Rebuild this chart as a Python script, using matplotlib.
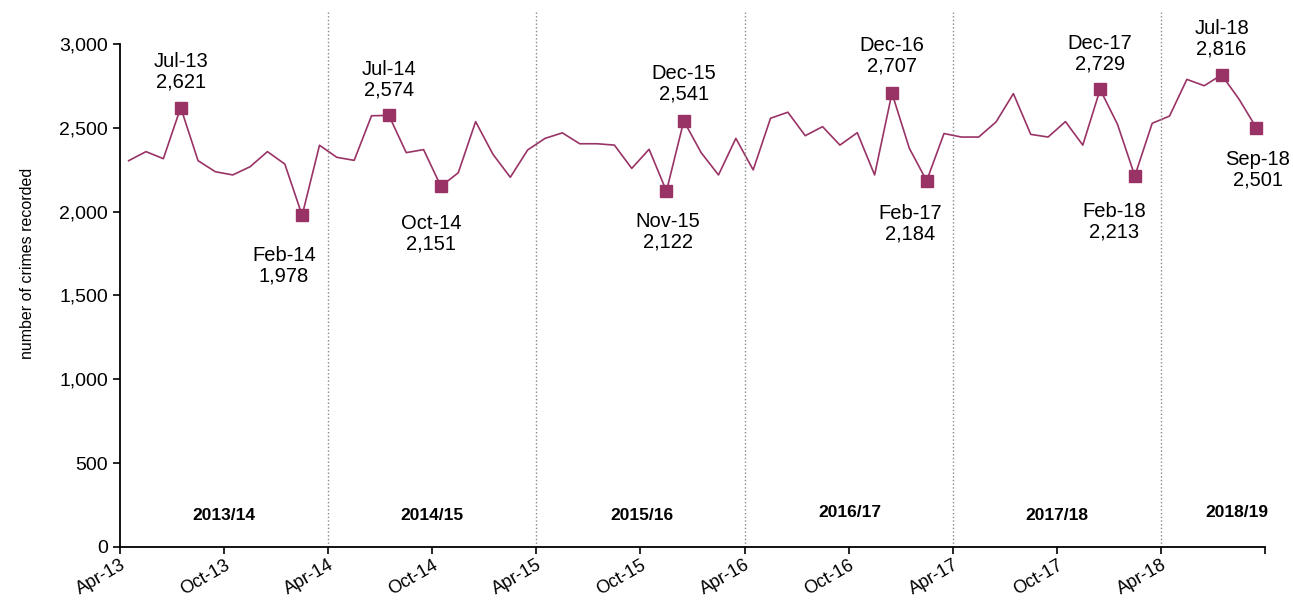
import matplotlib.pyplot as plt
import numpy as np
from matplotlib.ticker import FuncFormatter

# Monthly recorded crimes, Apr-13 to Sep-18
months = ['Apr-13', 'May-13', 'Jun-13', 'Jul-13', 'Aug-13', 'Sep-13', 'Oct-13', 'Nov-13', 'Dec-13', 'Jan-14', 'Feb-14', 'Mar-14',
          'Apr-14', 'May-14', 'Jun-14', 'Jul-14', 'Aug-14', 'Sep-14', 'Oct-14', 'Nov-14', 'Dec-14', 'Jan-15', 'Feb-15', 'Mar-15',
          'Apr-15', 'May-15', 'Jun-15', 'Jul-15', 'Aug-15', 'Sep-15', 'Oct-15', 'Nov-15', 'Dec-15', 'Jan-16', 'Feb-16', 'Mar-16',
          'Apr-16', 'May-16', 'Jun-16', 'Jul-16', 'Aug-16', 'Sep-16', 'Oct-16', 'Nov-16', 'Dec-16', 'Jan-17', 'Feb-17', 'Mar-17',
          'Apr-17', 'May-17', 'Jun-17', 'Jul-17', 'Aug-17', 'Sep-17', 'Oct-17', 'Nov-17', 'Dec-17', 'Jan-18', 'Feb-18', 'Mar-18',
          'Apr-18', 'May-18', 'Jun-18', 'Jul-18', 'Aug-18', 'Sep-18']
crimes = [2304, 2358, 2316, 2621, 2304, 2238, 2219, 2268, 2358, 2284, 1978, 2396,
          2324, 2306, 2572, 2574, 2352, 2370, 2151, 2232, 2537, 2342, 2205, 2368,
          2437, 2470, 2405, 2405, 2397, 2258, 2372, 2122, 2541, 2352, 2219, 2437,
          2249, 2557, 2593, 2453, 2507, 2397, 2471, 2219, 2707, 2378, 2184, 2466,
          2445, 2445, 2535, 2704, 2461, 2445, 2537, 2397, 2729, 2521, 2213, 2527,
          2570, 2789, 2751, 2816, 2672, 2501]

highlight = ['Jul-13', 'Feb-14', 'Jul-14', 'Oct-14', 'Nov-15', 'Dec-15',
             'Dec-16', 'Feb-17', 'Dec-17', 'Feb-18', 'Jul-18', 'Sep-18']
# label offsets in points (dx, dy)
label_offsets = [(0, 26), (-13, -36), (0, 26), (-7, -34), (1, -29), (0, 27),
                 (0, 27), (-12, -31), (0, 26), (-15, -33), (0, 26), (1, -30)]

years = ['2013/14', '2014/15', '2015/16', '2016/17', '2017/18', '2018/19']
year_x = [6.0, 18.0, 30.1, 42.1, 54.0, 64.4]
year_y = [185, 185, 185, 205, 185, 205]

colour = '#993366'
plt.rcParams['font.family'] = ['Liberation Sans', 'DejaVu Sans']

fig = plt.figure(figsize=(12.93, 6.01), dpi=100)
ax = fig.add_axes([0.0928, 0.0899, 0.9783 - 0.0928, 0.9268 - 0.0899])

x = np.arange(len(months)) + 0.5
ax.plot(x, crimes, color=colour, linewidth=1.2)

idx = [months.index(m) for m in highlight]
ax.plot(x[idx], np.array(crimes)[idx], 's', color=colour, markersize=9, linestyle='none')
for i, m, (dx, dy) in zip(idx, highlight, label_offsets):
    ax.annotate(f'{m}\n{crimes[i]:,}', (x[i], crimes[i]), xytext=(dx, dy),
                textcoords='offset points', ha='center', va='center',
                fontsize=14.5, linespacing=1.1)

# financial year separators
for xv in range(12, len(months), 12):
    ax.vlines(xv, 0, 3190, colors='#888888', linestyles=':', linewidth=1, clip_on=False)

for lab, xv, yv in zip(years, year_x, year_y):
    ax.text(xv, yv, lab, ha='center', va='center', fontsize=12.5, fontweight='bold')

ax.set_xlim(0, len(months))
ax.set_ylim(0, 3000)
ax.set_xticks(np.arange(0, len(months) + 1, 6))
ax.set_xticklabels([months[i] if i < len(months) else '' for i in range(0, len(months) + 1, 6)],
                   rotation=30, ha='right', rotation_mode='anchor', fontsize=13)
ax.set_yticks(np.arange(0, 3001, 500))
ax.yaxis.set_major_formatter(FuncFormatter(lambda v, p: f'{int(v):,}'))
ax.tick_params(axis='y', labelsize=14, length=5, width=1.2, direction='out')
ax.tick_params(axis='x', length=5, width=1.2, direction='out', pad=2)

ax.spines['top'].set_visible(False)
ax.spines['right'].set_visible(False)
ax.spines['left'].set_linewidth(1.3)
ax.spines['bottom'].set_linewidth(1.3)

ax.set_ylabel('number of crimes recorded', fontsize=11.5)
ax.yaxis.set_label_coords(-0.074, 0.563)

fig.savefig('out.png', dpi=100)
